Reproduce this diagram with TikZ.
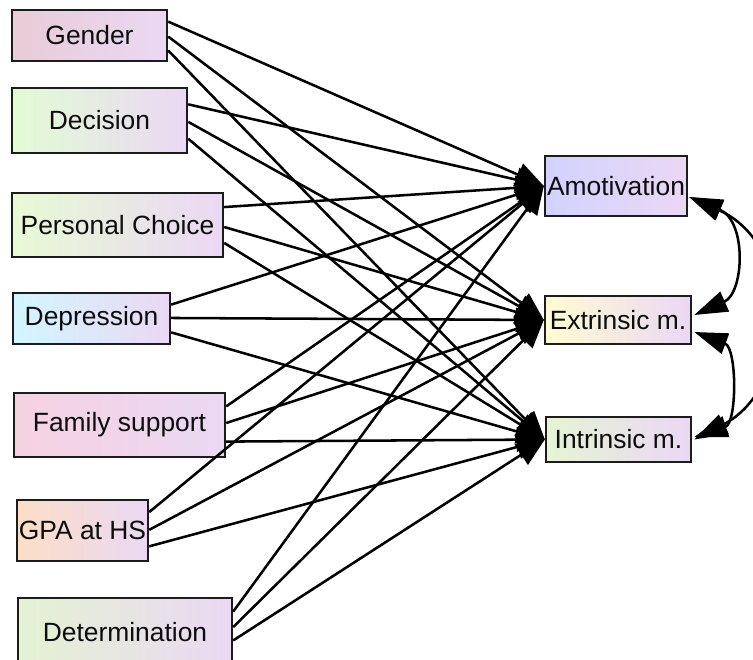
\documentclass[tikz,border=0pt]{standalone}
\usepackage{fontspec}
\setmainfont{Liberation Sans}
\usetikzlibrary{arrows.meta,calc}
\definecolor{rp}{RGB}{234,216,244}
\definecolor{cGen}{RGB}{232,204,214}
\definecolor{cDec}{RGB}{226,252,212}
\definecolor{cPer}{RGB}{232,250,212}
\definecolor{cDep}{RGB}{210,246,255}
\definecolor{cFam}{RGB}{246,210,224}
\definecolor{cGPA}{RGB}{252,222,198}
\definecolor{cDet}{RGB}{228,242,210}
\definecolor{cAmo}{RGB}{210,210,255}
\definecolor{cExt}{RGB}{255,252,212}
\definecolor{cInt}{RGB}{230,244,212}
\definecolor{bord}{RGB}{28,28,28}
\begin{document}
\begin{tikzpicture}[x=0.75pt,y=-0.75pt,
  box/.style={draw=bord,line width=1.8pt,inner sep=0pt,right color=rp,
    font=\fontsize{19.8}{22}\selectfont,text=black!95},
  edge/.style={line width=1.9pt,-{Triangle[length=21pt,width=18pt]}},
  cov/.style={line width=1.9pt,{Triangle[length=25pt,width=16pt]}-{Triangle[length=25pt,width=16pt]}}]
\useasboundingbox (0,0) rectangle (753,660);
% predictors
\node[box,left color=cGen,minimum width=155*0.75pt,minimum height=51*0.75pt] (gen) at (89.5,35.5) {Gender};
\node[box,left color=cDec,minimum width=175*0.75pt,minimum height=65*0.75pt] (dec) at (99.5,120.5) {Decision};
\node[box,left color=cPer,minimum width=211*0.75pt,minimum height=64*0.75pt] (per) at (117.5,225) {Personal Choice};
\node[box,left color=cDep,minimum width=157*0.75pt,minimum height=51*0.75pt] (dep) at (91.5,318.5) {Depression};
\node[box,left color=cFam,minimum width=211*0.75pt,minimum height=64*0.75pt] (fam) at (119.5,425) {Family support};
\node[box,left color=cGPA,minimum width=131*0.75pt,minimum height=61*0.75pt] (gpa) at (82.5,530.5) {GPA at HS};
\node[box,left color=cDet,minimum width=214*0.75pt,minimum height=68*0.75pt] (det) at (125,632) {Determination};
% outcomes
\node[box,left color=cAmo,minimum width=142*0.75pt,minimum height=60*0.75pt] (amo) at (616,186) {Amotivation};
\node[box,left color=cExt,minimum width=146*0.75pt,minimum height=48*0.75pt] (ext) at (618,320) {Extrinsic m.};
\node[box,left color=cInt,minimum width=145*0.75pt,minimum height=45*0.75pt] (int) at (618.5,439.5) {Intrinsic m.};
% paths
\foreach \n/\a/\b/\c in {gen/.24/.52/.78, dec/.26/.52/.77, per/.23/.53/.77, dep/.24/.49/.76, fam/.22/.47/.75, gpa/.21/.49/.75, det/.21/.43/.62}{
  \draw[edge] ($(\n.north east)!\a!(\n.south east)$) -- (amo.west);
  \draw[edge] ($(\n.north east)!\b!(\n.south east)$) -- (ext.west);
  \draw[edge] ($(\n.north east)!\c!(\n.south east)$) -- (int.west);
}
% covariances
\draw[cov] ($(amo.east)+(1,11)$) .. controls +(58,24) and +(50,-22) .. ($(ext.east)+(2,-5)$);
\draw[cov] ($(ext.east)+(2,12)$) .. controls +(43,16) and +(43,-14) .. ($(int.east)+(2,-2.5)$);
\draw[cov] ($(amo.east)+(1,11)$) .. controls +(108,48) and +(101,-52) .. ($(int.east)+(2,0)$);
\end{tikzpicture}
\end{document}
